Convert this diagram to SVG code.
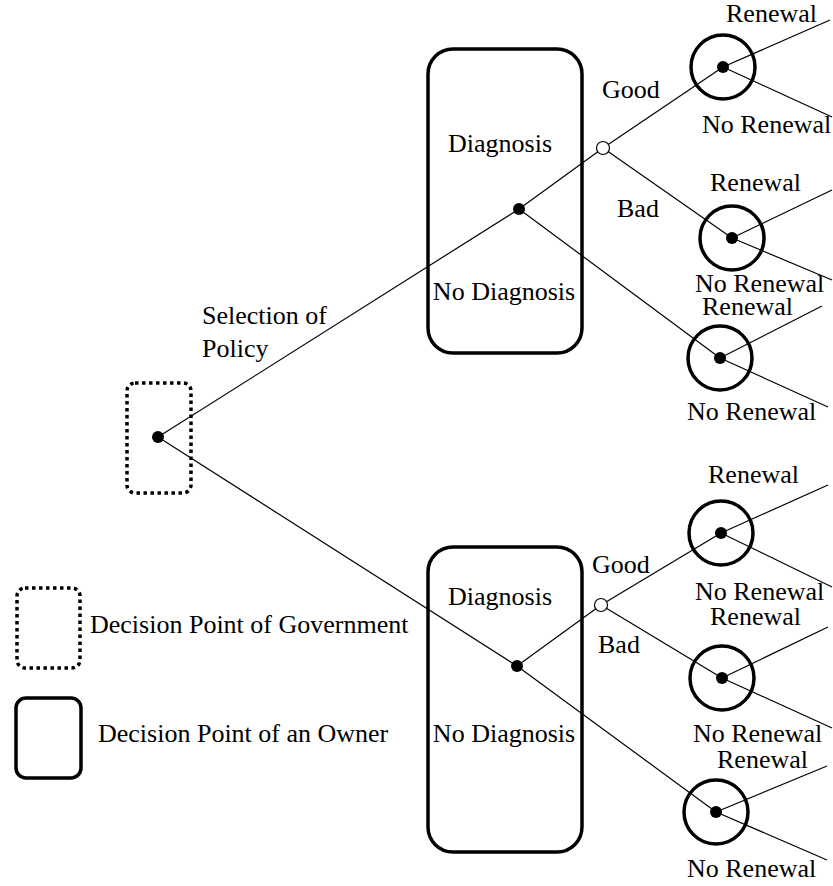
<svg xmlns="http://www.w3.org/2000/svg" width="833" height="886" viewBox="0 0 833 886" font-family="'Liberation Serif', 'Times New Roman', 'DejaVu Serif', serif" font-size="26">
<style>
text{font-family:'Liberation Serif','Times New Roman','DejaVu Serif',serif;font-size:26px;fill:#000}
.c{text-anchor:middle}
.e{stroke:#000;stroke-width:1.2;fill:none}
.gov{fill:none;stroke:#000;stroke-width:3.5;stroke-dasharray:3.5 3.5}
.own{fill:none;stroke:#000;stroke-width:3.5}
.chance{fill:none;stroke:#000;stroke-width:3.5}
.dot{fill:#000}
.open{fill:#fff;stroke:#000;stroke-width:1.2}
</style>
<rect width="833" height="886" fill="#fff"/>
<g id="connectors">
<line class="e" x1="158" y1="437" x2="519" y2="209"/>
<line class="e" x1="158" y1="437" x2="517" y2="666"/>
<line class="e" x1="519" y1="209" x2="603" y2="148"/>
<line class="e" x1="519" y1="209" x2="720" y2="358"/>
<line class="e" x1="603" y1="148" x2="723" y2="67"/>
<line class="e" x1="603" y1="148" x2="732" y2="238"/>
<line class="e" x1="517" y1="666" x2="601" y2="605"/>
<line class="e" x1="517" y1="666" x2="716" y2="812"/>
<line class="e" x1="601" y1="605" x2="721" y2="533"/>
<line class="e" x1="601" y1="605" x2="722" y2="678"/>
<line class="e" x1="723" y1="67" x2="830" y2="20"/>
<line class="e" x1="723" y1="67" x2="832" y2="117"/>
<line class="e" x1="732" y1="238" x2="832" y2="190"/>
<line class="e" x1="732" y1="238" x2="832" y2="280"/>
<line class="e" x1="720" y1="358" x2="822" y2="306"/>
<line class="e" x1="720" y1="358" x2="828" y2="407"/>
<line class="e" x1="721" y1="533" x2="828" y2="485"/>
<line class="e" x1="721" y1="533" x2="832" y2="587"/>
<line class="e" x1="722" y1="678" x2="828" y2="627"/>
<line class="e" x1="722" y1="678" x2="832" y2="728"/>
<line class="e" x1="716" y1="812" x2="827" y2="766"/>
<line class="e" x1="716" y1="812" x2="827" y2="860"/>
</g>
<g id="gov">
<rect class="gov" x="127" y="383" width="64" height="110" rx="8"/>
<circle class="dot" cx="158" cy="437" r="6"/>
</g>
<text x="202" y="324">Selection of</text>
<text x="202" y="357">Policy</text>
<g id="owner1">
<rect class="own" x="428" y="49" width="154" height="304" rx="25"/>
<circle class="dot" cx="519" cy="209" r="6"/>
<text class="c" x="500" y="152">Diagnosis</text>
<text class="c" x="504" y="300">No Diagnosis</text>
</g>
<g id="owner2">
<rect class="own" x="428" y="547" width="154" height="305" rx="25"/>
<circle class="dot" cx="517" cy="666" r="6"/>
<text class="c" x="500" y="605">Diagnosis</text>
<text class="c" x="504" y="742">No Diagnosis</text>
</g>
<g id="diag1">
<circle class="open" cx="603" cy="148" r="6.5"/>
<text x="602" y="98">Good</text>
<text x="617" y="217">Bad</text>
</g>
<g id="diag2">
<circle class="open" cx="601" cy="605" r="6.5"/>
<text x="592" y="573">Good</text>
<text x="598" y="653">Bad</text>
</g>
<g id="c1">
<circle class="chance" cx="723" cy="67" r="32"/>
<circle class="dot" cx="723" cy="67" r="6"/>
<text x="726" y="22">Renewal</text>
<text x="702" y="133">No Renewal</text>
</g>
<g id="c2">
<circle class="chance" cx="732" cy="238" r="32"/>
<circle class="dot" cx="732" cy="238" r="6"/>
<text x="710" y="191">Renewal</text>
<text x="695" y="292">No Renewal</text>
</g>
<g id="c3">
<circle class="chance" cx="720" cy="358" r="32"/>
<circle class="dot" cx="720" cy="358" r="6"/>
<text x="702" y="315">Renewal</text>
<text x="687" y="420">No Renewal</text>
</g>
<g id="c4">
<circle class="chance" cx="721" cy="533" r="32"/>
<circle class="dot" cx="721" cy="533" r="6"/>
<text x="708" y="483">Renewal</text>
<text x="695" y="600">No Renewal</text>
</g>
<g id="c5">
<circle class="chance" cx="722" cy="678" r="32"/>
<circle class="dot" cx="722" cy="678" r="6"/>
<text x="710" y="625">Renewal</text>
<text x="693" y="742">No Renewal</text>
</g>
<g id="c6">
<circle class="chance" cx="716" cy="812" r="32"/>
<circle class="dot" cx="716" cy="812" r="6"/>
<text x="717" y="768">Renewal</text>
<text x="687" y="877">No Renewal</text>
</g>
<g id="legend-gov">
<rect class="gov" x="17" y="588" width="63" height="80" rx="8"/>
<text x="90" y="633">Decision Point of Government</text>
</g>
<g id="legend-owner">
<rect class="own" x="16" y="698" width="65" height="80" rx="10"/>
<text x="98" y="742">Decision Point of an Owner</text>
</g>
</svg>
